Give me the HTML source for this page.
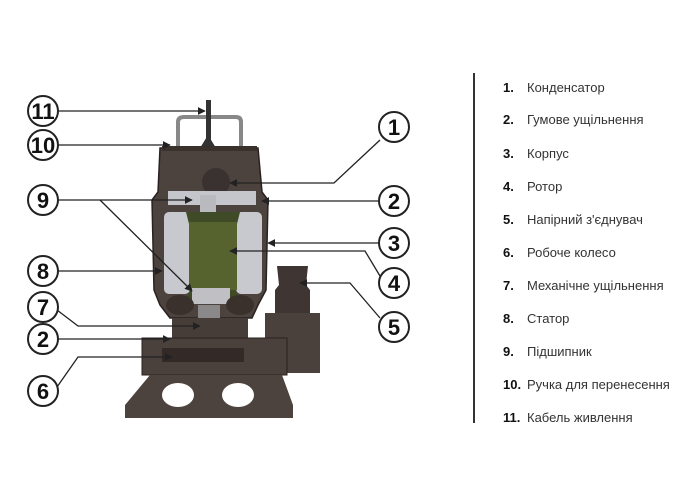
<!DOCTYPE html>
<html><head><meta charset="utf-8"><style>
body{margin:0;background:#fff;width:700px;height:500px;overflow:hidden}
svg{display:block}
.n{font:bold 22px "Liberation Sans Narrow","Liberation Sans",sans-serif;fill:#111}
.lg{font:13px "Liberation Sans",sans-serif;fill:#333}
.lb{font:bold 13px "Liberation Sans",sans-serif;fill:#111}
</style></head><body>
<svg width="700" height="500" viewBox="0 0 700 500">
<defs><marker id="a" viewBox="0 0 10 10" refX="9" refY="5" markerWidth="6" markerHeight="6" orient="auto"><path d="M0,0L10,5L0,10z" fill="#222"/></marker></defs>
<path d="M178,148 V122 Q178,117 184,117 H236 Q241,117 241,122 V148" fill="none" stroke="#888" stroke-width="4"/>
<rect x="206" y="100" width="5" height="48" fill="#333"/>
<path d="M200,148 L208,135 L216,148z" fill="#333"/>
<path d="M160,148 H258 L262,192 L268,200 L266,290 L258,305 L252,318 H170 L160,305 L154,290 L152,200 L158,192 Z" fill="#4c423e" stroke="#2a2220" stroke-width="1.5"/>
<rect x="162" y="146" width="95" height="5" fill="#3a302c"/>
<circle cx="216" cy="182" r="14" fill="#3a3230"/>
<rect x="168" y="191" width="88" height="14" fill="#c4c6cc"/>
<rect x="200" y="195" width="16" height="42" fill="#b8babe"/>
<rect x="164" y="212" width="26" height="82" rx="5" fill="#c8c9ce"/>
<rect x="236" y="212" width="26" height="82" rx="5" fill="#c8c9ce"/>
<path d="M186,212 H240 L236,228 V290 L240,300 H186 L190,290 V228 Z" fill="#3f4a26"/>
<rect x="189" y="222" width="48" height="68" fill="#56632f"/>
<rect x="192" y="288" width="38" height="16" fill="#c0c0c4"/>
<ellipse cx="180" cy="305" rx="14" ry="10" fill="#3a302c"/>
<ellipse cx="240" cy="305" rx="14" ry="10" fill="#3a302c"/>
<rect x="198" y="305" width="22" height="40" fill="#8a8888"/>
<rect x="172" y="318" width="76" height="22" fill="#463c38"/>
<path d="M277,266 H308 L306,285 L310,290 V313 H275 V290 L279,285 Z" fill="#3f3532"/>
<rect x="265" y="313" width="55" height="60" fill="#4a403c"/>
<rect x="142" y="338" width="145" height="37" fill="#4a403c" stroke="#2a2220"/>
<rect x="162" y="348" width="82" height="14" fill="#332a28"/>
<path d="M150,375 H282 L293,405 V418 H125 V405 Z" fill="#4c423e"/>
<ellipse cx="178" cy="395" rx="16" ry="12" fill="#fff"/>
<ellipse cx="238" cy="395" rx="16" ry="12" fill="#fff"/>
<g stroke="#222" stroke-width="1.3" fill="none" marker-end="url(#a)">
<line x1="57" y1="111" x2="205" y2="111"/>
<line x1="57" y1="145" x2="170" y2="145"/>
<line x1="57" y1="200" x2="192" y2="200"/>
<line x1="100" y1="200" x2="192" y2="291"/>
<line x1="57" y1="271" x2="162" y2="271"/>
<path d="M57,310 L78,326 H200"/>
<line x1="57" y1="339" x2="170" y2="339"/>
<path d="M57,387 L78,357 H172"/>
<path d="M380,140 L334,183 H230"/>
<line x1="380" y1="201" x2="262" y2="201"/>
<line x1="380" y1="243" x2="268" y2="243"/>
<path d="M380,276 L365,251 H230"/>
<path d="M380,318 L350,283 H300"/>
</g>
<g fill="#fff" stroke="#222" stroke-width="2">
<circle cx="43" cy="111" r="15"/><circle cx="43" cy="145" r="15"/><circle cx="43" cy="200" r="15"/>
<circle cx="43" cy="271" r="15"/><circle cx="43" cy="307" r="15"/><circle cx="43" cy="339" r="15"/>
<circle cx="43" cy="391" r="15"/>
<circle cx="394" cy="127" r="15"/><circle cx="394" cy="201" r="15"/><circle cx="394" cy="243" r="15"/>
<circle cx="394" cy="283" r="15"/><circle cx="394" cy="327" r="15"/>
</g>
<g class="n" text-anchor="middle">
<text x="43" y="119">11</text><text x="43" y="153">10</text><text x="43" y="208">9</text>
<text x="43" y="279">8</text><text x="43" y="315">7</text><text x="43" y="347">2</text><text x="43" y="399">6</text>
<text x="394" y="135">1</text><text x="394" y="209">2</text><text x="394" y="251">3</text>
<text x="394" y="291">4</text><text x="394" y="335">5</text>
</g>
<line x1="474" y1="73" x2="474" y2="423" stroke="#333" stroke-width="2"/>
<g>
<text class="lb" x="503" y="92">1.</text><text class="lg" x="527" y="92">Конденсатор</text>
<text class="lb" x="503" y="124">2.</text><text class="lg" x="527" y="124">Гумове ущільнення</text>
<text class="lb" x="503" y="158">3.</text><text class="lg" x="527" y="158">Корпус</text>
<text class="lb" x="503" y="191">4.</text><text class="lg" x="527" y="191">Ротор</text>
<text class="lb" x="503" y="224">5.</text><text class="lg" x="527" y="224">Напірний з'єднувач</text>
<text class="lb" x="503" y="257">6.</text><text class="lg" x="527" y="257">Робоче колесо</text>
<text class="lb" x="503" y="290">7.</text><text class="lg" x="527" y="290">Механічне ущільнення</text>
<text class="lb" x="503" y="323">8.</text><text class="lg" x="527" y="323">Статор</text>
<text class="lb" x="503" y="356">9.</text><text class="lg" x="527" y="356">Підшипник</text>
<text class="lb" x="503" y="389">10.</text><text class="lg" x="527" y="389">Ручка для перенесення</text>
<text class="lb" x="503" y="422">11.</text><text class="lg" x="527" y="422">Кабель живлення</text>
</g>
</svg>
</body></html>
